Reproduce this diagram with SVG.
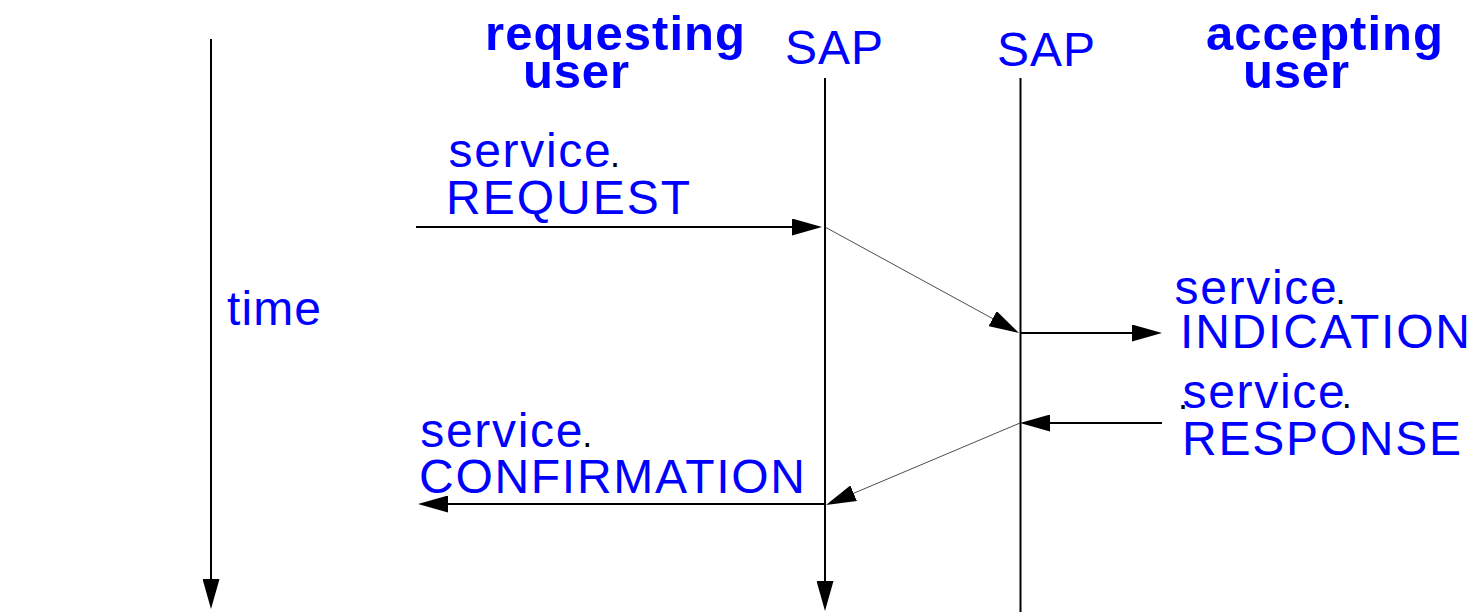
<svg xmlns="http://www.w3.org/2000/svg" width="1472" height="612" viewBox="0 0 1472 612">
  <style>
    .lbl { font-family: "Liberation Sans", Arial, sans-serif; font-size: 48px; fill: #0000ff; }
    .svc { font-family: "Liberation Sans", Arial, sans-serif; font-size: 48px; fill: #0000ff; letter-spacing: 1.7px; }
    .hdr { font-family: "Liberation Sans", Arial, sans-serif; font-size: 49px; font-weight: bold; fill: #0000ff; }
    .dot { font-size: 36px; fill: #000000; }
    .axis { stroke: #000000; stroke-width: 2; fill: none; }
    .msg { stroke: #000000; stroke-width: 2; fill: none; }
    .transit { stroke: #3a3a3a; stroke-width: 0.9; fill: none; }
  </style>
  <defs>
    <marker id="head" markerUnits="userSpaceOnUse" markerWidth="30" markerHeight="17" viewBox="0 0 30 17" refX="25" refY="8.5" orient="auto">
      <path d="M0,0 L30,8.5 L0,17 Z" fill="#000000"/>
    </marker>
  </defs>

  <rect width="1472" height="612" fill="#ffffff"/>

  <!-- time axis -->
  <g id="time-axis">
    <line class="axis" x1="211" y1="39" x2="211" y2="604" marker-end="url(#head)"/>
    <text class="lbl" x="227" y="325" textLength="94">time</text>
  </g>

  <!-- headers -->
  <g id="requesting-user">
    <text class="hdr"><tspan x="485" y="50" textLength="260">requesting</tspan><tspan x="523" y="88" textLength="106">user</tspan></text>
  </g>
  <g id="accepting-user">
    <text class="hdr"><tspan x="1206" y="50" textLength="237">accepting</tspan><tspan x="1243" y="88" textLength="106">user</tspan></text>
  </g>

  <!-- service access points -->
  <g id="sap-requesting">
    <text class="lbl" x="785" y="64" textLength="98">SAP</text>
    <line class="axis" x1="825" y1="78" x2="825" y2="606" marker-end="url(#head)"/>
  </g>
  <g id="sap-accepting">
    <text class="lbl" x="997" y="66" textLength="98">SAP</text>
    <line class="axis" x1="1020.5" y1="78" x2="1020.5" y2="612"/>
  </g>

  <!-- primitive labels -->
  <g id="request-label">
    <text class="svc" x="448.5" y="167">service<tspan class="dot" dx="-2.4">.</tspan></text>
    <text class="lbl" x="446" y="214" textLength="244">REQUEST</text>
  </g>
  <g id="indication-label">
    <text class="svc" x="1174.5" y="304">service<tspan class="dot" dx="-3">.</tspan></text>
    <text class="lbl" x="1180" y="348" textLength="290">INDICATION</text>
  </g>
  <g id="response-label">
    <text class="svc" x="1178" y="408"><tspan class="dot" dy="1">.</tspan><tspan dx="-7.2" dy="-1">service</tspan><tspan class="dot" dx="-4.7">.</tspan></text>
    <text class="lbl" x="1182" y="455" textLength="279">RESPONSE</text>
  </g>
  <g id="confirmation-label">
    <text class="svc" x="420.2" y="447">service<tspan class="dot" dx="-2">.</tspan></text>
    <text class="lbl" x="419" y="493" textLength="386">CONFIRMATION</text>
  </g>

  <!-- message connectors -->
  <g id="connectors">
    <line class="msg" x1="416" y1="227" x2="817" y2="227" marker-end="url(#head)"/>
    <line class="transit" x1="825" y1="227" x2="1014.6" y2="330.6" marker-end="url(#head)"/>
    <line class="msg" x1="1020" y1="333" x2="1157" y2="333" marker-end="url(#head)"/>
    <line class="msg" x1="1162" y1="423" x2="1025" y2="423" marker-end="url(#head)"/>
    <line class="transit" x1="1020" y1="423" x2="830.6" y2="503" marker-end="url(#head)"/>
    <line class="msg" x1="825" y1="504" x2="423" y2="504" marker-end="url(#head)"/>
  </g>
</svg>
